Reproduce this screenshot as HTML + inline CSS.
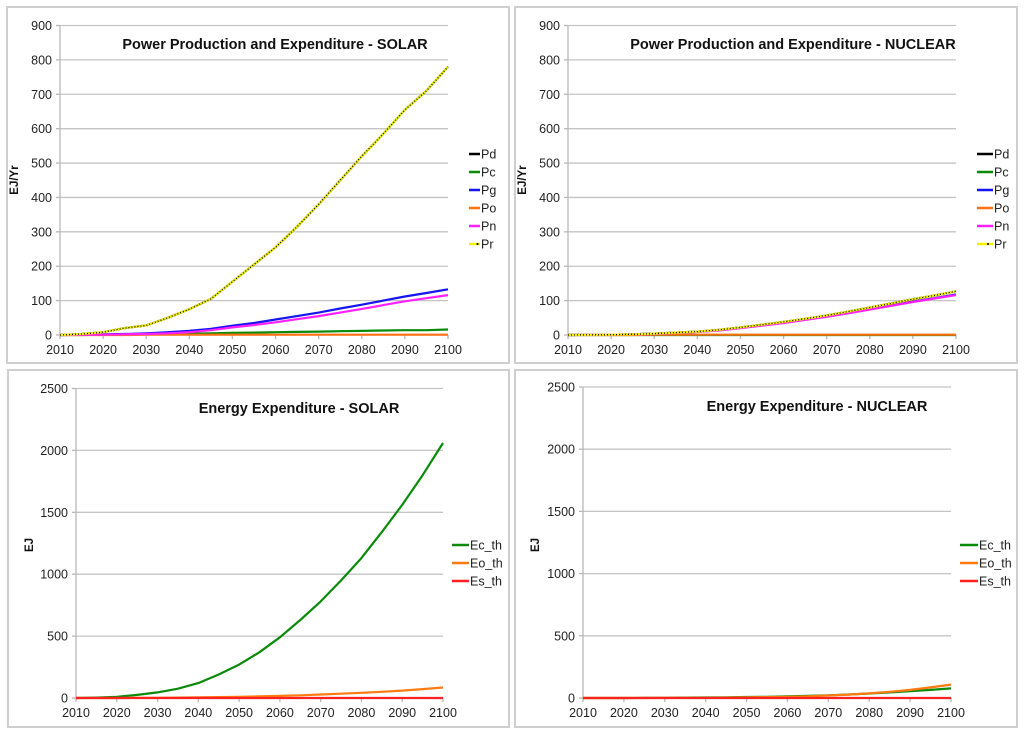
<!DOCTYPE html>
<html><head><meta charset="utf-8"><style>
html,body{margin:0;padding:0;background:#fff;}
svg{display:block;font-family:"Liberation Sans",Arial,sans-serif;}
</style></head><body>
<svg id="root" width="1024" height="735" viewBox="0 0 1024 735" xmlns="http://www.w3.org/2000/svg"></svg>
<script>
const years = [2010,2015,2020,2025,2030,2035,2040,2045,2050,2055,2060,2065,2070,2075,2080,2085,2090,2095,2100];
const xTicks = [2010,2020,2030,2040,2050,2060,2070,2080,2090,2100];
const powerTicks = [0,100,200,300,400,500,600,700,800,900];
const energyTicks = [0,500,1000,1500,2000,2500];
// Solar power
const solarPd = [0,3,8,20,28,50,75,105,155,205,255,315,380,450,520,585,655,710,780];
const solarPc = [0,0,1,1,2,3,4,5,6,7,8,9,10,11,12,13,14,14,16];
const solarPg = [0,1,2,3,5,8,12,18,27,35,45,55,65,77,88,100,112,122,133];
const solarPo = [0,0,0,0,1,1,1,1,1,1,1,1,1,1,1,1,1,1,1];
const solarPn = [0,0.5,1,2,3,5,8,14,22,29,37,46,55,65,76,87,98,107,116];
const solarPr = [0,3,8,20,28,50,75,105,155,205,255,315,380,450,520,585,655,710,780];
// Nuclear power
const nucPd = [0,0.5,1,2,4,7,10,15,22,30,38,47,57,68,80,92,104,115,127];
const nucPc = [0,0,0,0,0,0,0,0,0,0,0,0,0,0,0,0,0,0,0];
const nucPg = [0,0.5,1,2,4,6,9,14,21,28,36,45,54,64,75,86,97,107,118];
const nucPo = [0,0,0,0,1,1,1,1,1,1,1,1,1,1,1,1,1,1,1];
const nucPn = [0,0.5,1,2,3,6,9,13,20,27,35,44,53,63,74,85,96,106,116];
const nucPr = [0,0.5,1,2,4,7,10,15,22,30,38,47,57,68,80,92,104,115,127];
// Energy
const solarEc = [0,3,10,25,45,75,120,190,270,370,490,630,780,950,1130,1340,1560,1800,2060];
const solarEo = [0,0,0,1,2,3,5,7,10,13,17,22,28,35,42,50,60,72,85];
const solarEs = [0,0,0,0,0,0,0,0,0,0,0,0,0,0,0,0,0,0,0];
const nucEc = [0,0,0,1,2,3,4,6,8,10,13,17,22,28,36,45,55,65,77];
const nucEo = [0,0,0,0,1,1,2,3,5,7,10,14,20,27,37,50,65,85,108];
const nucEs = [0,0,0,0,0,0,0,0,0,0,0,0,0,0,0,0,0,0,0];

const NS="http://www.w3.org/2000/svg";
const root=document.getElementById('root');
function mk(tag,attrs,parent){const e=document.createElementNS(NS,tag);for(const k in attrs)e.setAttribute(k,attrs[k]);(parent||root).appendChild(e);return e;}

function panel(cfg){
  const g=mk('g',{});
  
  
  const border=mk('rect',{x:cfg.px,y:cfg.py,width:cfg.pw,height:cfg.ph,fill:'#fff',stroke:'#cfcfcf','stroke-width':2},g);
  
  
  const xs=v=>cfg.x0+(v-2010)/90*(cfg.x1-cfg.x0);
  const ys=v=>cfg.y0-(v/cfg.ymax)*(cfg.y0-cfg.ytop);
  cfg.yTicks.forEach(t=>{
    const yy=ys(t);
    if(t>0){const gl=mk('line',{x1:cfg.x0,x2:cfg.x1,y1:yy,y2:yy,stroke:'#c4c4c4','stroke-width':1.3},g);
      }
    const tk=mk('line',{x1:cfg.x0-4,x2:cfg.x0,y1:yy,y2:yy,stroke:'#b8b8b8','stroke-width':1.3},g);
    
    const tl=mk('text',{x:cfg.x0-8,y:yy+4.5,'text-anchor':'end','font-size':12.5,fill:'#222'},g);
    tl.textContent=t;
    
  });
  const ya=mk('line',{x1:cfg.x0,x2:cfg.x0,y1:cfg.ytop,y2:cfg.y0,stroke:'#b8b8b8','stroke-width':1.3},g);
  
  const xa=mk('line',{x1:cfg.x0,x2:cfg.x1,y1:cfg.y0,y2:cfg.y0,stroke:'#b8b8b8','stroke-width':1.3},g);
  
  xTicks.forEach(t=>{
    const xx=xs(t);
    const tk=mk('line',{x1:xx,x2:xx,y1:cfg.y0,y2:cfg.y0+4,stroke:'#b8b8b8','stroke-width':1.3},g);
    
    const tl=mk('text',{x:xx,y:cfg.y0+19,'text-anchor':'middle','font-size':12.5,fill:'#222'},g);
    tl.textContent=t;
    
  });
  const yt=mk('text',{x:0,y:0,'font-size':11.5,'font-weight':'bold',fill:'#111','text-anchor':'middle',transform:`translate(${cfg.ylx},${cfg.yly}) rotate(-90)`},g);
  yt.textContent=cfg.ylabel;
  
  const tt=mk('text',{x:cfg.tx,y:cfg.ty,'font-size':14.5,'font-weight':'bold',fill:'#111','text-anchor':'middle'},g);
  tt.textContent=cfg.title;
  
  cfg.series.forEach((s,i)=>{
    const d=years.map((yr,j)=>(j?'L':'M')+xs(yr).toFixed(1)+','+ys(s.data[j]).toFixed(1)).join(' ');
    const p=mk('path',{d:d,fill:'none',stroke:s.color,'stroke-width':2.2,'stroke-linejoin':'round'},g);
    
    
    if(s.dotted){
      const p2=mk('path',{d:d,fill:'none',stroke:'#000','stroke-width':1.2,'stroke-dasharray':'1 2'},g);
      
      
    }
    const ly=cfg.ly+i*18;
    const le=mk('g',{},g);
    
    
    mk('line',{x1:cfg.lx,x2:cfg.lx+cfg.llen,y1:ly,y2:ly,stroke:s.color,'stroke-width':2.5},le);
    if(s.dotted) mk('circle',{cx:cfg.lx+cfg.llen/2+3,cy:ly,r:1,fill:'#000'},le);
    const lt=mk('text',{x:cfg.lx+cfg.llen+1,y:ly+4.5,'font-size':12.5,fill:'#222'},le);
    lt.textContent=s.label;
  });
}
const pc={Pd:'#000',Pc:'#0a8a0a',Pg:'#1515f0',Po:'#ff7010',Pn:'#ff20ff',Pr:'#f2f200'};
function powerSeries(a){return [
  {label:'Pd',color:pc.Pd,data:a[0]},{label:'Pc',color:pc.Pc,data:a[1]},{label:'Pg',color:pc.Pg,data:a[2]},
  {label:'Po',color:pc.Po,data:a[3]},{label:'Pn',color:pc.Pn,data:a[4]},{label:'Pr',color:pc.Pr,data:a[5],dotted:true}];}
panel({name:'solar-power-chart',px:7,py:7,pw:502,ph:356,x0:60,x1:448,y0:335,ytop:25.5,ymax:900,yTicks:powerTicks,
  ylabel:'EJ/Yr',ylx:18,yly:180,title:'Power Production and Expenditure - SOLAR',tx:275,ty:49,lx:469,llen:11,ly:154,
  series:powerSeries([solarPd,solarPc,solarPg,solarPo,solarPn,solarPr])});
panel({name:'nuclear-power-chart',px:515,py:7,pw:502,ph:356,x0:568,x1:956,y0:335,ytop:25.5,ymax:900,yTicks:powerTicks,
  ylabel:'EJ/Yr',ylx:526,yly:180,title:'Power Production and Expenditure - NUCLEAR',tx:793,ty:49,lx:977,llen:16,ly:154,
  series:powerSeries([nucPd,nucPc,nucPg,nucPo,nucPn,nucPr])});
panel({name:'solar-energy-chart',px:8,py:370,pw:501,ph:357,x0:76,x1:443,y0:698,ytop:388.5,ymax:2500,yTicks:energyTicks,
  ylabel:'EJ',ylx:33,yly:545,title:'Energy Expenditure - SOLAR',tx:299,ty:413,lx:452,llen:17,ly:545,
  series:[{label:'Ec_th',color:'#0a8a0a',data:solarEc},{label:'Eo_th',color:'#ff7a10',data:solarEo},{label:'Es_th',color:'#ff2020',data:solarEs}]});
panel({name:'nuclear-energy-chart',px:515,py:370,pw:502,ph:357,x0:583,x1:951,y0:698,ytop:387,ymax:2500,yTicks:energyTicks,
  ylabel:'EJ',ylx:539,yly:545,title:'Energy Expenditure - NUCLEAR',tx:817,ty:411,lx:960,llen:18,ly:545,
  series:[{label:'Ec_th',color:'#0a8a0a',data:nucEc},{label:'Eo_th',color:'#ff7a10',data:nucEo},{label:'Es_th',color:'#ff2020',data:nucEs}]});
</script>
</body></html>
